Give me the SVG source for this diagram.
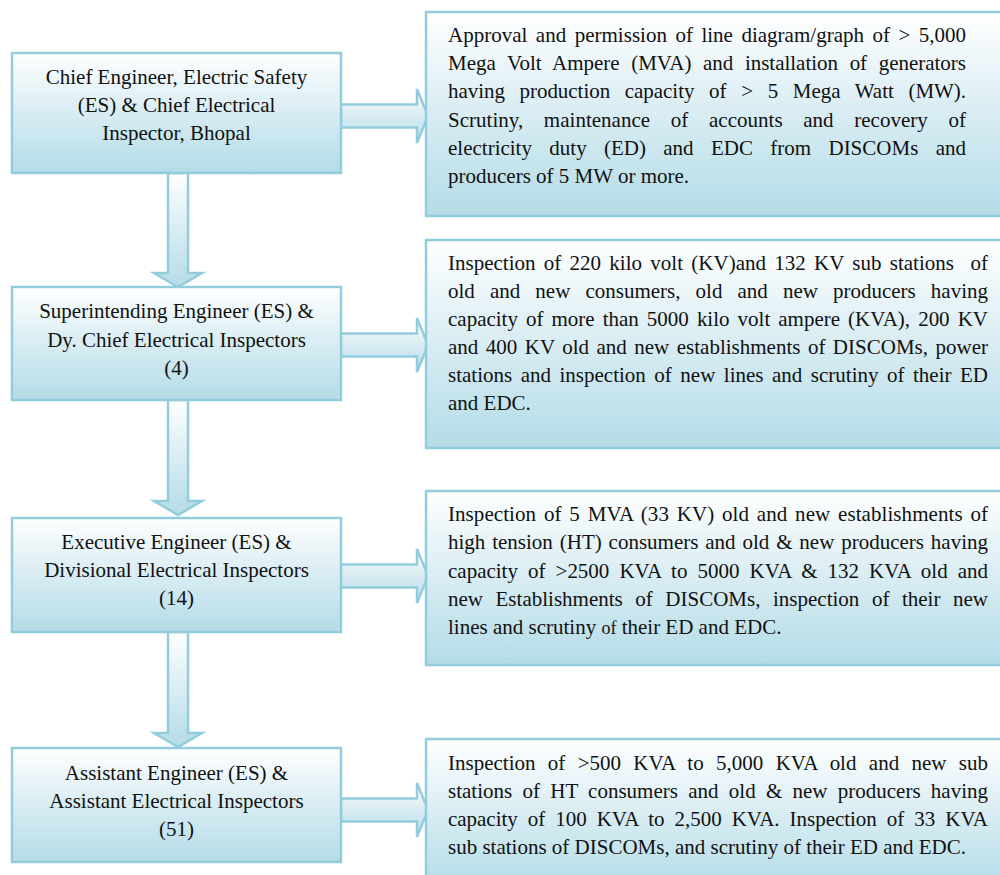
<svg xmlns="http://www.w3.org/2000/svg" width="1000" height="875" viewBox="0 0 1000 875">
<defs>
<linearGradient id="g" x1="0" y1="0" x2="0" y2="1">
<stop offset="0" stop-color="#ffffff"/>
<stop offset="0.45" stop-color="#dcEEF4"/>
<stop offset="1" stop-color="#b4dce7"/>
</linearGradient>
<style>
.box{fill:url(#g);stroke:#93cddd;stroke-width:2.5}
.arr{fill:url(#g);stroke:#93cddd;stroke-width:2.5;stroke-linejoin:miter}
text{font-family:"Liberation Serif","Times New Roman",serif;font-size:21px;fill:#111}
.c{text-anchor:middle}
</style>
</defs>
<rect width="1000" height="875" fill="#ffffff"/>
<g id="connectors">
<path class="arr" d="M341,104.5 H417 V89 L428,116 L417,143 V127.5 H341 Z"/>
<path class="arr" d="M341,333.5 H417 V318 L428,345 L417,372 V356.5 H341 Z"/>
<path class="arr" d="M341,564.5 H417 V549 L428,576 L417,603 V587.5 H341 Z"/>
<path class="arr" d="M341,798.5 H417 V783 L428,810 L417,837 V821.5 H341 Z"/>
<path class="arr" d="M168,173 V273 H154 L178,287 L202,273 H188 V173 Z"/>
<path class="arr" d="M168,400 V501 H154 L178,515 L202,501 H188 V400 Z"/>
<path class="arr" d="M168,632 V733 H154 L178,747 L202,733 H188 V632 Z"/>
</g>
<g id="chief">
<rect class="box" x="12" y="53" width="329" height="120"/>
<text class="c" x="176.5" y="84">Chief Engineer, Electric Safety</text>
<text class="c" x="176.5" y="112">(ES) &amp; Chief Electrical</text>
<text class="c" x="176.5" y="140">Inspector, Bhopal</text>
</g>
<g id="superintending">
<rect class="box" x="12" y="287" width="329" height="113"/>
<text class="c" x="176.5" y="318">Superintending Engineer (ES) &amp;</text>
<text class="c" x="176.5" y="346.5">Dy. Chief Electrical Inspectors</text>
<text class="c" x="176.5" y="374.5">(4)</text>
</g>
<g id="executive">
<rect class="box" x="12" y="518" width="329" height="114"/>
<text class="c" x="176.5" y="549">Executive Engineer (ES) &amp;</text>
<text class="c" x="176.5" y="577">Divisional Electrical Inspectors</text>
<text class="c" x="176.5" y="605">(14)</text>
</g>
<g id="assistant">
<rect class="box" x="12" y="748" width="329" height="114"/>
<text class="c" x="176.5" y="780">Assistant Engineer (ES) &amp;</text>
<text class="c" x="176.5" y="808">Assistant Electrical Inspectors</text>
<text class="c" x="176.5" y="836">(51)</text>
</g>
<g id="duty-chief">
<rect class="box" x="426" y="12" width="590" height="204"/>
<text x="448" y="42" textLength="518" lengthAdjust="spacing" style="word-spacing:3.2px">Approval and permission of line diagram/graph of &gt; 5,000</text>
<text x="448" y="70.2" textLength="518" lengthAdjust="spacing" style="word-spacing:6.4px">Mega Volt Ampere (MVA) and installation of generators</text>
<text x="448" y="98.4" textLength="518" lengthAdjust="spacing" style="word-spacing:9.5px">having production capacity of &gt; 5 Mega Watt (MW).</text>
<text x="448" y="126.6" textLength="518" lengthAdjust="spacing" style="word-spacing:15.4px">Scrutiny, maintenance of accounts and recovery of</text>
<text x="448" y="154.8" textLength="518" lengthAdjust="spacing" style="word-spacing:12.1px">electricity duty (ED) and EDC from DISCOMs and</text>
<text x="448" y="183">producers of 5 MW or more.</text>
</g>
<g id="duty-superintending">
<rect class="box" x="426" y="240" width="590" height="208"/>
<text x="448" y="270" xml:space="preserve" textLength="540" lengthAdjust="spacing" style="word-spacing:3.01px;white-space:pre">Inspection of 220 kilo volt (KV)and 132 KV sub stations  of</text>
<text x="448" y="298" textLength="540" lengthAdjust="spacing" style="word-spacing:9.83px">old and new consumers, old and new producers having</text>
<text x="448" y="326" textLength="540" lengthAdjust="spacing" style="word-spacing:2.8px">capacity of more than 5000 kilo volt ampere (KVA), 200 KV</text>
<text x="448" y="354" textLength="540" lengthAdjust="spacing" style="word-spacing:2.19px">and 400 KV old and new establishments of DISCOMs, power</text>
<text x="448" y="382" textLength="540" lengthAdjust="spacing" style="word-spacing:3.26px">stations and inspection of new lines and scrutiny of their ED</text>
<text x="448" y="410">and EDC.</text>
</g>
<g id="duty-executive">
<rect class="box" x="426" y="491" width="590" height="174"/>
<text x="448" y="521" textLength="540" lengthAdjust="spacing" style="word-spacing:2.44px">Inspection of 5 MVA (33 KV) old and new establishments of</text>
<text x="448" y="549.3" textLength="540" lengthAdjust="spacing" style="word-spacing:1.61px">high tension (HT) consumers and old &amp; new producers having</text>
<text x="448" y="577.6" textLength="540" lengthAdjust="spacing" style="word-spacing:4.8px">capacity of &gt;2500 KVA to 5000 KVA &amp; 132 KVA old and</text>
<text x="448" y="605.9" textLength="540" lengthAdjust="spacing" style="word-spacing:7.31px">new Establishments of DISCOMs, inspection of their new</text>
<text x="448" y="634.2">lines and scrutiny <tspan style="font-size:18px">of</tspan> their ED and EDC.</text>
</g>
<g id="duty-assistant">
<rect class="box" x="426" y="739" width="590" height="150"/>
<text x="448" y="770" textLength="540" lengthAdjust="spacing" style="word-spacing:7.1px">Inspection of &gt;500 KVA to 5,000 KVA old and new sub</text>
<text x="448" y="798" textLength="540" lengthAdjust="spacing" style="word-spacing:4.98px">stations of HT consumers and old &amp; new producers having</text>
<text x="448" y="826" textLength="540" lengthAdjust="spacing" style="word-spacing:4.8px">capacity of 100 KVA to 2,500 KVA. Inspection of 33 KVA</text>
<text x="448" y="854">sub stations of DISCOMs, and scrutiny of their ED and EDC.</text>
</g>
</svg>
